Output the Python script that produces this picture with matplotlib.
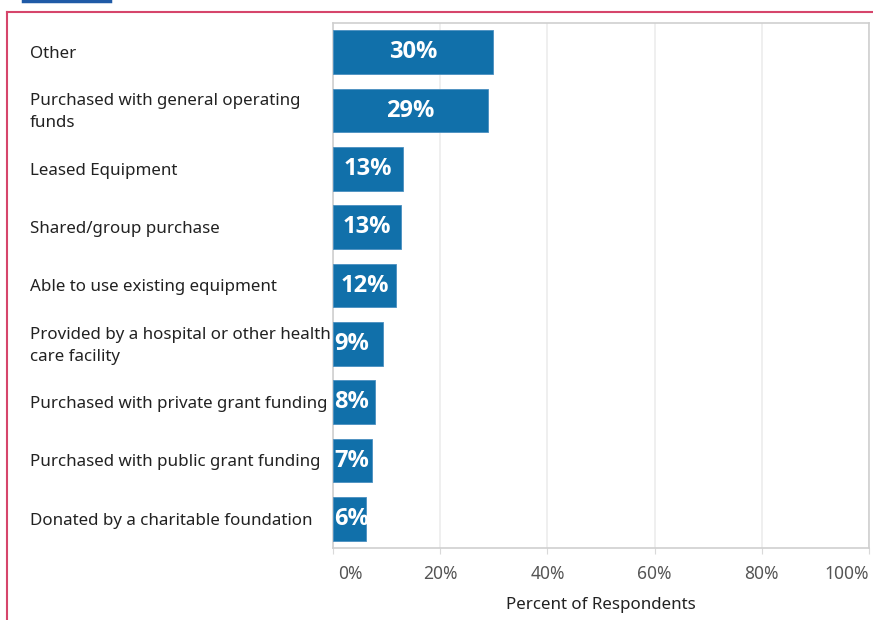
import matplotlib
matplotlib.use("Agg")
import matplotlib.pyplot as plt
import matplotlib.transforms as mtransforms
from matplotlib.lines import Line2D

categories = [
    "Other",
    "Purchased with general operating\nfunds",
    "Leased Equipment",
    "Shared/group purchase",
    "Able to use existing equipment",
    "Provided by a hospital or other health\ncare facility",
    "Purchased with private grant funding",
    "Purchased with public grant funding",
    "Donated by a charitable foundation",
]
values = [29.9, 28.9, 13.1, 12.7, 11.8, 9.3, 7.8, 7.3, 6.1]
value_labels = ["30%", "29%", "13%", "13%", "12%", "9%", "8%", "7%", "6%"]
x_ticks = [0, 20, 40, 60, 80, 100]
x_tick_labels = ["0%", "20%", "40%", "60%", "80%", "100%"]
x_title = "Percent of Respondents"

FONT = ["Noto Sans", "DejaVu Sans"]
plt.rcParams["font.family"] = FONT

W, H = 873, 620
fig = plt.figure(figsize=(W / 100, H / 100), dpi=100)
ax = fig.add_axes([333 / W, (H - 548) / H, 536 / W, 525 / H])

bar_color = "#1170aa"
n = len(categories)
ypos = list(range(n))
bars = ax.barh(ypos, values, height=0.75, color=bar_color, edgecolor="#4a8fc0", linewidth=0.6, zorder=3)
ax.set_xlim(0, 100)
ax.set_ylim(n - 0.5, -0.5)

ax.set_xticks(x_ticks)
ax.set_xticklabels(x_tick_labels)
ax.grid(axis="x", color="#ececec", linewidth=1.2, zorder=0)
ax.set_yticks([])
for s in ax.spines.values():
    s.set_color("#cfcfcf")
    s.set_linewidth(1.2)
ax.tick_params(axis="x", length=4, color="#d9d9d9", pad=8, labelsize=12.5, labelcolor="#555555")
tl = ax.get_xticklabels()
tl[0].set_ha("left")
tl[-1].set_ha("right")
fig.canvas.draw()
offset0 = mtransforms.ScaledTranslation(5 / 100, 0, fig.dpi_scale_trans)
tl[0].set_transform(tl[0].get_transform() + offset0)

ax.set_xlabel(x_title, fontsize=12.2, color="#222222", labelpad=10)

trans = mtransforms.blended_transform_factory(fig.transFigure, ax.transData)
for y, c in zip(ypos, categories):
    ax.text(30 / W, y + 0.03, c, transform=trans, ha="left", va="center", fontsize=12.2,
            color="#222222", linespacing=1.5, clip_on=False)

VFONT = ["Open Sans", "DejaVu Sans"]
for y, v, lab, b in zip(ypos, values, value_labels, bars):
    if v >= 11:
        t = ax.text(v / 2, y, lab, ha="center", va="center", color="white",
                    fontsize=17, fontweight="bold", family=VFONT, zorder=4)
    else:
        t = ax.text(0.2, y, lab, ha="left", va="center", color="white",
                    fontsize=17, fontweight="bold", family=VFONT, zorder=4)
        t.set_clip_path(b)

fig.add_artist(Line2D([7 / W, 7 / W], [0, 1 - 12 / H], transform=fig.transFigure,
                      color="#d6456b", linewidth=1.5))
fig.add_artist(Line2D([7 / W, 1], [1 - 12 / H, 1 - 12 / H], transform=fig.transFigure,
                      color="#d6456b", linewidth=1.5))
fig.add_artist(Line2D([23 / W, 110 / W], [1 - 1 / H, 1 - 1 / H], transform=fig.transFigure,
                      color="#1f5aa6", linewidth=2.5))

fig.savefig("out.png", dpi=100)
